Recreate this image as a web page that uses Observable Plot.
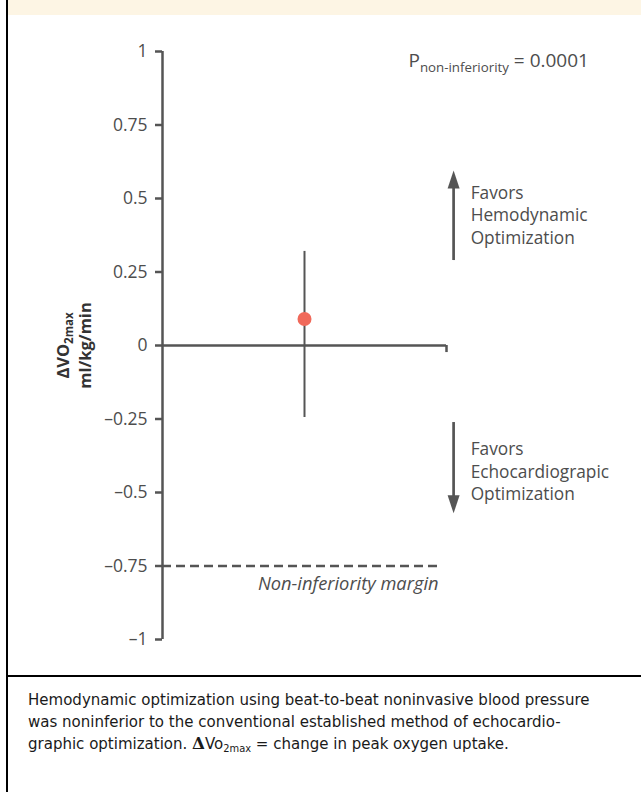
<!DOCTYPE html>
<html>
<head>
<meta charset="utf-8">
<script src="https://cdn.jsdelivr.net/npm/d3@7"></script>
<script src="https://cdn.jsdelivr.net/npm/@observablehq/plot@0.6"></script>
<style>
  body { margin: 0; background: #fff; }
  #page { position: relative; width: 641px; height: 792px; background: #fff; overflow: hidden; }
  #leftRule { position: absolute; left: 6px; top: 0; width: 2px; height: 792px; background: #000; }
  #banner { position: absolute; left: 8px; top: 0; right: 0; height: 15px; background: #fdf5e4; }
  #chart { position: absolute; left: 0; top: 15px; }
  #midRule { position: absolute; left: 6px; right: 0; top: 675px; height: 2px; background: #000; }
  #caption { position: absolute; left: 28px; top: 688px; font-family: "Liberation Sans Narrow", "DejaVu Sans Condensed", Roboto, sans-serif; font-size: 16.7px; line-height: 22px; color: #1a1a1a; white-space: nowrap; }
  #caption sub { font-size: 11px; vertical-align: -3px; line-height: 0; }
</style>
</head>
<body>
<div id="page">
  <div id="banner"></div>
  <div id="chart"></div>
  <div id="leftRule"></div>
  <div id="midRule"></div>
  <div id="caption"></div>
</div>
<script>
// ---- data ----
const yTicks = [1, 0.75, 0.5, 0.25, 0, -0.25, -0.5, -0.75, -1];
const yTickLabels = ["1", "0.75", "0.5", "0.25", "0", "–0.25", "–0.5", "–0.75", "–1"];
const comparisons = ["Hemodynamic vs Echocardiographic optimization"];
const comparisonX = [0.5];
const meanDiff = [0.09];
const ciLower = [-0.245];
const ciUpper = [0.32];
const marginValue = [-0.75];
const marginLabel = "Non-inferiority margin";
const pMain = "P";
const pSub = "non-inferiority";
const pValueText = " = 0.0001";
const favorUpLines = ["Favors", "Hemodynamic", "Optimization"];
const favorDownLines = ["Favors", "Echocardiograpic", "Optimization"];
const arrowFrom = [0.289, -0.262];
const arrowTo = [0.595, -0.571];
const arrowDir = ["up", "down"];
const favorTextY = [0.447, -0.425];
const yLabelLine1 = ["ΔVO", "2max"];
const yLabelLine2 = "ml/kg/min";
const captionLines = [
  "Hemodynamic optimization using beat-to-beat noninvasive blood pressure",
  "was noninferior to the conventional established method of echocardio-",
  "graphic optimization."
];

// ---- build ----
const INK = "#555555";
const TXT = "#4d4d4d";
const labelMap = new Map(yTicks.map((t, i) => [t, yTickLabels[i]]));
const rows = comparisons.map((c, i) => ({c, x: comparisonX[i], mean: meanDiff[i], lo: ciLower[i], hi: ciUpper[i]}));
const arrows = arrowDir.map((d, i) => ({dir: d, from: arrowFrom[i], to: arrowTo[i],
  shaftEnd: arrowTo[i] + (d === "up" ? -0.03 : 0.03),
  text: (d === "up" ? favorUpLines : favorDownLines).join("\n"), ty: favorTextY[i]}));
const arrowX = 1.025, favorX = 1.085, axisEndX = 1, marginEndX = 0.972, pX = 0.866;

const arrowHead = {
  draw(context) {
    context.moveTo(0, 0);
    context.lineTo(6, 18);
    context.lineTo(-6, 18);
    context.closePath();
  }
};

const chart = Plot.plot({
  width: 641,
  height: 660,
  marginLeft: 162,
  marginRight: 195,
  marginTop: 36,
  marginBottom: 36,
  x: {type: "linear", domain: [0, 1], axis: null},
  y: {domain: [-1, 1], axis: null},
  style: {fontFamily: "'Open Sans', sans-serif", fontSize: "17px", color: TXT, background: "transparent", overflow: "visible"},
  marks: [
    Plot.axisY(yTicks, {anchor: "left", tickSize: 7, tickPadding: 8, strokeWidth: 2.5, stroke: INK, fill: TXT, tickFormat: d => labelMap.get(d), label: null}),
    Plot.ruleX([0], {y1: -1, y2: 1, stroke: INK, strokeWidth: 2.5}),
    Plot.ruleY([0], {x1: 0, x2: axisEndX, stroke: INK, strokeWidth: 2.5}),
    Plot.ruleX([axisEndX], {y1: 0, y2: -0.024, stroke: INK, strokeWidth: 2.5}),
    Plot.ruleY(marginValue, {x1: 0, x2: marginEndX, stroke: INK, strokeWidth: 2.5, strokeDasharray: "9,5"}),
    Plot.text([marginLabel], {x: marginEndX, y: marginValue[0], dy: 18, textAnchor: "end", fontStyle: "italic", fill: TXT, fontSize: 18.3}),
    Plot.ruleX(rows, {x: "x", y1: "lo", y2: "hi", stroke: INK, strokeWidth: 2}),
    Plot.dot(rows, {x: "x", y: "mean", r: 7, fill: "#f0695a", stroke: "none"}),
    Plot.ruleX(arrows, {x: arrowX, y1: "from", y2: "shaftEnd", stroke: INK, strokeWidth: 2.7}),
    Plot.dot(arrows, {x: arrowX, y: "to", symbol: arrowHead, r: 5, fill: INK, stroke: "none", rotate: d => d.dir === "up" ? 0 : 180}),
    Plot.text(arrows, {x: favorX, y: "ty", text: "text", textAnchor: "start", lineHeight: 1.3, fill: TXT, fontSize: 17.3}),
    Plot.text([pMain], {x: pX, y: 1, dy: 15, lineAnchor: "bottom", textAnchor: "start", fontSize: 19, fill: TXT}),
    Plot.text([yLabelLine1.join("")], {frameAnchor: "left", dx: -99, rotate: -90, textAnchor: "middle", fontWeight: "bold", fontSize: 16.5, fill: "#333"}),
    Plot.text([yLabelLine2], {frameAnchor: "left", dx: -77, rotate: -90, textAnchor: "middle", fontWeight: "bold", fontSize: 16.5, fill: "#333"})
  ]
});
document.getElementById("chart").appendChild(chart);

const svg = d3.select(chart);
// axis tick label size
svg.selectAll('[aria-label="y-axis tick label"]').attr("font-size", 17.5).selectAll("text").attr("font-size", 17.5);

// rich text (subscripts)
svg.selectAll("text").filter(function () { return this.textContent === pMain; })
  .each(function () {
    const t = d3.select(this);
    t.text(null);
    t.append("tspan").text(pMain);
    t.append("tspan").attr("dy", 5).attr("font-size", 13.3).text(pSub);
    t.append("tspan").attr("dy", -5).text(pValueText);
  });
svg.selectAll("text").filter(function () { return this.textContent === yLabelLine1.join(""); })
  .each(function () {
    const t = d3.select(this);
    t.text(null);
    t.append("tspan").text(yLabelLine1[0]);
    t.append("tspan").attr("dy", 4).attr("font-size", 11.5).text(yLabelLine1[1]);
  });

// caption
const cap = document.getElementById("caption");
cap.innerHTML = captionLines[0] + "<br>" + captionLines[1] + "<br>" + captionLines[2] +
  ' <b style="font-family:\'DejaVu Serif\',serif">Δ</b>Vo<sub>2max</sub> = change in peak oxygen uptake.';
</script>
</body>
</html>
